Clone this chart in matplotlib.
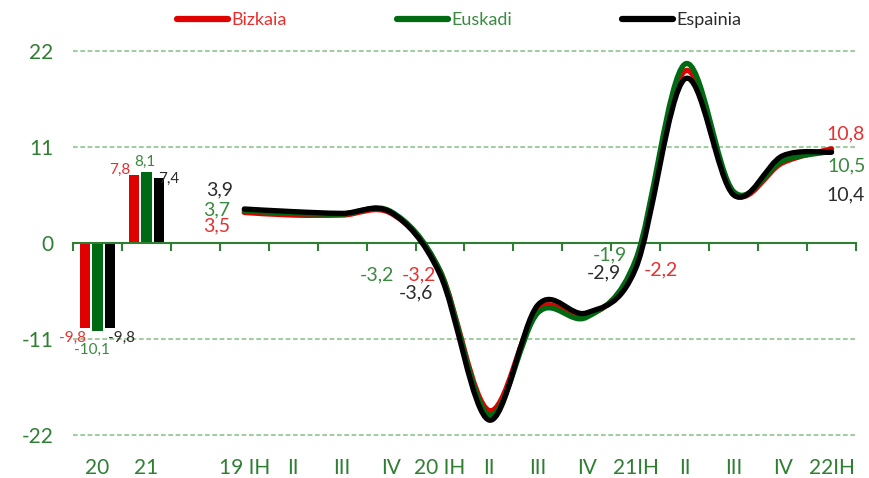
import numpy as np
import matplotlib
matplotlib.use("Agg")
import matplotlib.pyplot as plt
from matplotlib.path import Path
from matplotlib.patches import PathPatch
from matplotlib.lines import Line2D

plt.rcParams['font.family'] = ['Lato', 'DejaVu Sans']
plt.rcParams['axes.unicode_minus'] = False

# categories on the x axis (index 2 is an empty slot between bars and lines)
categories = ['20', '21', '', '19 IH', 'II', 'III', 'IV', '20 IH', 'II', 'III', 'IV',
              '21IH', 'II', 'III', 'IV', '22IH']
series_names = ['Bizkaia', 'Euskadi', 'Espainia']

# annual bars (2020, 2021)
bar_years = [0, 1]
bizkaia_annual = [-9.8, 7.8]
euskadi_annual = [-10.1, 8.1]
espainia_annual = [-9.8, 7.4]

# quarterly lines, 2019 IH .. 2022 IH
quarter_idx = list(range(3, 16))
bizkaia_q = [3.5, 3.2, 3.2, 3.4, -3.2, -19.2, -7.6, -8.4, -2.2, 19.7, 5.7, 9.2, 10.8]
euskadi_q = [3.7, 3.4, 3.3, 3.6, -3.2, -19.7, -8.0, -8.5, -1.9, 20.5, 5.9, 9.4, 10.5]
espainia_q = [3.9, 3.6, 3.4, 3.5, -3.6, -20.3, -7.1, -8.0, -2.9, 18.8, 5.5, 10.0, 10.4]

yticks = [-22, -11, 0, 11, 22]

line_colors = ['#e00000', '#006a12', '#000000']
text_colors = ['#e8302f', '#3a8a40', '#2b2b2b']
axis_green = '#2f7f33'
grid_green = '#8cc28f'


def fmt(v):
    return f"{v:.1f}".replace('.', ',')


def smooth_path(xs, ys):
    """Excel-like smoothed line as cubic bezier segments"""
    pts = np.column_stack([xs, ys]).astype(float)
    ext = np.vstack([pts[0], pts, pts[-1]])
    verts = [pts[0]]
    codes = [Path.MOVETO]
    for i in range(len(pts) - 1):
        p0, p1, p2, p3 = ext[i], ext[i + 1], ext[i + 2], ext[i + 3]
        verts += [p1 + (p2 - p0) / 6, p2 - (p3 - p1) / 6, p2]
        codes += [Path.CURVE4] * 3
    return Path(verts, codes)


fig = plt.figure(figsize=(8.7, 4.78), dpi=100)
ax = fig.add_axes([73 / 870, 1 - 443.6 / 478, 783 / 870, 401.2 / 478])
ax.set_xlim(-0.5, len(categories) - 0.5)
ax.set_ylim(-23, 23)

# grid
for y in yticks:
    if y != 0:
        ax.axhline(y, color=grid_green, lw=1.2, ls=(0, (2.8, 1.6)), zorder=0)

# bars
annual = [bizkaia_annual, euskadi_annual, espainia_annual]
offsets = [-0.255, 0.0, 0.255]
for vals, off, c in zip(annual, offsets, line_colors):
    ax.bar(np.array(bar_years) + off, vals, width=0.21, color=c, zorder=2)

# smoothed lines
quarterly = [bizkaia_q, euskadi_q, espainia_q]
for k, (vals, c) in enumerate(zip(quarterly, line_colors)):
    patch = PathPatch(smooth_path(quarter_idx, vals), fill=False, edgecolor=c, lw=3.8,
                      capstyle='round', joinstyle='round', zorder=3 + k)
    ax.add_patch(patch)

# axes styling
for s in ['top', 'right', 'left']:
    ax.spines[s].set_visible(False)
ax.spines['bottom'].set_position(('data', 0))
ax.spines['bottom'].set_color(axis_green)
ax.spines['bottom'].set_linewidth(1.5)
ax.spines['bottom'].set_zorder(2.5)

ax.set_xticks(range(len(categories)))
ax.set_xticklabels(categories)
ax.set_xticks(np.arange(-0.5, len(categories)), minor=True)
ax.tick_params(axis='x', which='major', length=0, pad=155, labelsize=15, labelcolor=axis_green)
ax.tick_params(axis='x', which='minor', length=6, width=1.5, color=axis_green, direction='out')

ax.set_yticks(yticks)
ax.tick_params(axis='y', length=0, pad=14, labelsize=15, labelcolor=axis_green)

# data labels: offsets in pixels from the data point
bar_label_offsets = [
    [(-12, -9), (-14, 5)],
    [(-6, -19), (-2, 10)],
    [(12, -9), (10, 0)],
]
for vals, off, boffs, tc in zip(annual, offsets, bar_label_offsets, text_colors):
    for x, v, (dx, dy) in zip(bar_years, vals, boffs):
        ax.annotate(fmt(v), (x + off, v), xytext=(dx, dy), textcoords='offset pixels',
                    ha='center', va='center', fontsize=11, color=tc, zorder=6)

# line labels at 19 IH, 20 IH, 21IH, 22IH
label_points = [0, 4, 8, 12]
line_label_offsets = [
    [(-28, -13), (-21, -4), (25, -8), (14, 15)],
    [(-28, 1), (-63, -4), (-26, 5), (15, -14)],
    [(-25, 19), (-24, -18), (-32, -5), (14, -43)],
]
for vals, loffs, tc in zip(quarterly, line_label_offsets, text_colors):
    for j, (dx, dy) in zip(label_points, loffs):
        ax.annotate(fmt(vals[j]), (quarter_idx[j], vals[j]), xytext=(dx, dy),
                    textcoords='offset pixels', ha='center', va='center',
                    fontsize=14, color=tc, zorder=6, annotation_clip=False)

# legend
handles = [Line2D([], [], color=c, lw=4.5, solid_capstyle='round') for c in line_colors]
leg = fig.legend(handles, series_names, loc='center', bbox_to_anchor=(0.528, 0.958),
                 ncol=3, frameon=False, fontsize=13, handlelength=2.8,
                 handletextpad=0.2, columnspacing=6.1)
for txt, tc in zip(leg.get_texts(), text_colors):
    txt.set_color(tc)

fig.savefig('out.png', dpi=100)
